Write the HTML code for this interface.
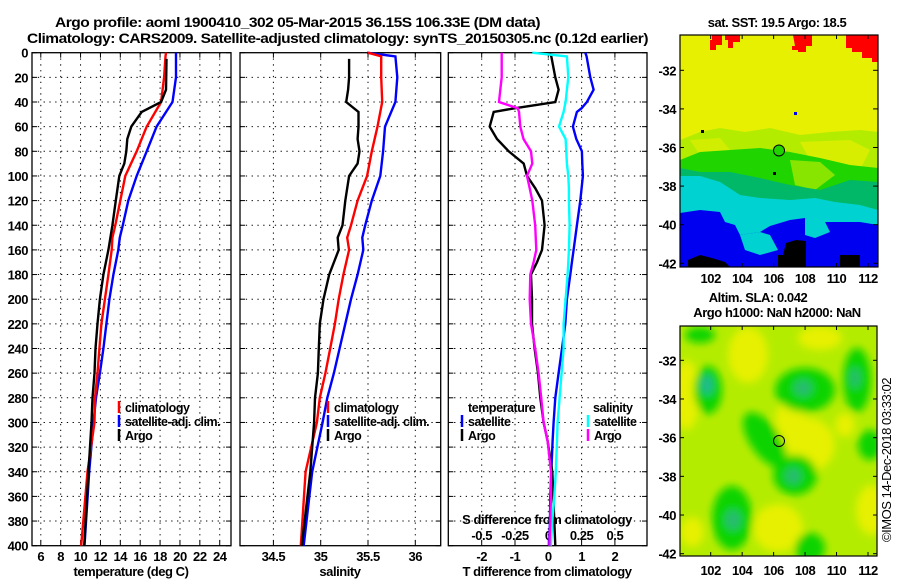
<!DOCTYPE html>
<html><head><meta charset="utf-8"><title>Argo profile</title>
<style>
html,body{margin:0;padding:0;background:#fff;}
svg{display:block;font-family:"Liberation Sans",sans-serif;font-weight:bold;letter-spacing:-0.45px;}
</style></head>
<body>
<svg id="fig" width="900" height="580" viewBox="0 0 900 580" xmlns="http://www.w3.org/2000/svg">
<defs>
<filter id="blur" x="-20%" y="-20%" width="140%" height="140%"><feGaussianBlur stdDeviation="4"/></filter>
<clipPath id="m2clip"><rect x="680" y="326" width="197" height="230"/></clipPath>
<clipPath id="m1clip"><rect x="680" y="35" width="198" height="232"/></clipPath>
</defs>
<text x="55" y="27" font-size="14" textLength="485" lengthAdjust="spacingAndGlyphs">Argo profile: aoml 1900410_302 05-Mar-2015 36.15S 106.33E (DM data)</text>
<text x="27" y="43" font-size="14" textLength="621" lengthAdjust="spacingAndGlyphs">Climatology: CARS2009. Satellite-adjusted climatology: synTS_20150305.nc (0.12d earlier)</text>

<!-- SST map -->
<g clip-path="url(#m1clip)">
<rect x="680" y="35" width="198" height="232" fill="#e6f000"/>
<polygon fill="#ff0000" points="712,35 722,35 722,45 716,45 716,50 710,50 710,40 712,40"/>
<polygon fill="#ff0000" points="725,35 740,35 740,42 733,42 733,48 728,48 728,40 725,40"/>
<polygon fill="#ff0000" points="793,35 812,35 812,46 806,46 806,52 798,52 798,50 792,50 792,46 795,46"/>
<polygon fill="#ff0000" points="846,35 878,35 878,62 872,62 872,58 862,58 862,52 852,52 852,48 846,48"/>
<polygon fill="#b4ec00" points="680,140 700,132 720,128 745,132 770,128 800,135 830,132 860,130 878,132 878,267 680,267"/>
<polygon fill="#e6f000" opacity="0.6" points="690,140 720,138 730,150 700,155"/>
<polygon fill="#e6f000" opacity="0.7" points="800,142 850,140 870,150 860,170 830,175 810,160"/>
<polygon fill="#20d400" points="680,160 700,152 730,150 760,148 790,152 820,158 850,165 878,168 878,267 680,267"/>
<polygon fill="#b4ec00" opacity="0.7" points="790,160 820,162 835,175 815,190 795,185"/>
<polygon fill="#00b868" points="680,168 700,172 730,172 760,178 790,185 820,190 850,180 878,182 878,267 680,267"/>
<polygon fill="#00d2d2" points="680,176 700,176 720,182 740,195 760,198 790,200 815,198 835,202 860,205 878,210 878,267 680,267"/>
<polygon fill="#0000f0" points="680,213 700,210 720,212 725,222 735,225 740,235 760,232 770,226 790,220 805,218 820,222 840,222 860,222 878,225 878,267 680,267"/>
<polygon fill="#00d2d2" points="740,235 760,232 770,235 778,250 760,255 745,250"/>
<polygon fill="#00d2d2" points="805,218 825,222 830,232 815,238 805,235"/>
<polygon fill="#000000" points="786,243 796,240 806,241 806,267 778,267 778,255 783,255"/>
<polygon fill="#000000" points="688,260 700,255 712,258 725,262 730,267 688,267"/>
<rect x="840" y="255" width="20" height="12" fill="#000"/>
<rect x="701" y="130" width="3" height="3" fill="#000"/>
<rect x="773" y="172" width="3" height="3" fill="#000"/>
<rect x="794" y="112" width="3" height="3" fill="#0000f0"/>
</g>
<rect x="680" y="35" width="198" height="232" fill="none" stroke="#000" stroke-width="1.2"/>
<circle cx="779" cy="150.5" r="5.5" fill="#20d400" stroke="#000" stroke-width="1"/>
<text x="777" y="27" font-size="13" text-anchor="middle">sat. SST: 19.5 Argo: 18.5</text>

<!-- SLA map -->
<g clip-path="url(#m2clip)">
<rect x="680" y="326" width="197" height="230" fill="#b4ec00"/>
<g filter="url(#blur)">
<ellipse cx="686" cy="395" rx="14" ry="35" fill="#e6f000"/>
<ellipse cx="748" cy="355" rx="20" ry="28" fill="#e6f000"/>
<ellipse cx="805" cy="445" rx="30" ry="28" fill="#e6f000"/>
<ellipse cx="790" cy="420" rx="15" ry="20" fill="#e6f000"/>
<ellipse cx="872" cy="510" rx="16" ry="25" fill="#e6f000"/>
<ellipse cx="778" cy="528" rx="25" ry="24" fill="#e6f000"/>
<ellipse cx="692" cy="532" rx="12" ry="15" fill="#e6f000"/>
<ellipse cx="820" cy="338" rx="22" ry="12" fill="#e6f000"/>
<ellipse cx="845" cy="425" rx="10" ry="12" fill="#e6f000"/>
<ellipse cx="708" cy="390" rx="14" ry="24" fill="#10d400"/>
<ellipse cx="805" cy="390" rx="30" ry="22" fill="#10d400"/>
<ellipse cx="857" cy="380" rx="14" ry="32" fill="#10d400"/>
<ellipse cx="765" cy="440" rx="15" ry="32" transform="rotate(-35 765 440)" fill="#10d400"/>
<ellipse cx="795" cy="475" rx="22" ry="20" fill="#10d400"/>
<ellipse cx="732" cy="518" rx="20" ry="32" fill="#10d400"/>
<ellipse cx="870" cy="445" rx="12" ry="15" fill="#10d400"/>
<ellipse cx="810" cy="548" rx="15" ry="15" fill="#10d400"/>
<ellipse cx="700" cy="335" rx="15" ry="8" fill="#10d400"/>
<ellipse cx="707" cy="385" rx="6" ry="10" fill="#20b890"/>
<ellipse cx="803" cy="388" rx="9" ry="8" fill="#28bc70"/>
<ellipse cx="793" cy="476" rx="8" ry="8" fill="#28bc70"/>
<ellipse cx="733" cy="520" rx="8" ry="10" fill="#28bc70"/>
<ellipse cx="855" cy="378" rx="5" ry="10" fill="#28bc70"/>
</g>
</g>
<rect x="680" y="326" width="197" height="230" fill="none" stroke="#000" stroke-width="1.2"/>
<circle cx="779" cy="441" r="5.5" fill="none" stroke="#000" stroke-width="1"/>
<text x="758" y="302" font-size="13" text-anchor="middle">Altim. SLA: 0.042</text>
<text x="777" y="317" font-size="13" text-anchor="middle">Argo h1000: NaN h2000: NaN</text>
<text x="0" y="0" font-size="13" font-weight="normal" text-anchor="middle" transform="translate(891 460) rotate(-90)">©IMOS 14-Dec-2018 03:33:02</text>
<g id="axes"></g>
</svg>
<script>
// ---- profile data (depth in m) ----
var clmDepth = [0,3,20,40,60,80,100,120,140,150,160,180,200,220,240,260,280,300,340,400];
var clmTemp  = [18.6,18.55,18.4,18.1,16.65,15.65,14.5,14.0,13.5,13.2,13.13,12.8,12.45,12.1,11.9,11.7,11.45,11.4,10.7,10.06];
var satTemp  = [19.6,19.6,19.6,19.25,17.65,16.65,15.65,14.8,14.25,13.95,13.8,13.3,12.9,12.6,12.3,11.95,11.55,11.3,10.87,10.4];
var clmSal   = [35.5,35.64,35.64,35.65,35.6,35.54,35.49,35.39,35.32,35.28,35.30,35.24,35.19,35.15,35.10,35.05,34.99,34.96,34.84,34.79];
var satSal   = [35.49,35.79,35.81,35.79,35.68,35.66,35.63,35.54,35.47,35.44,35.45,35.39,35.32,35.26,35.20,35.14,35.07,35.02,34.91,34.82];

var argoDepth = [5,20,30,40,48,60,70,80,90,100,120,140,150,160,180,200,220,240,260,280,300,340,400];
var argoTemp  = [18.65,18.62,18.6,18.1,16.15,15.1,14.7,14.6,14.4,13.9,13.55,13.2,13.0,12.8,12.3,11.95,11.7,11.5,11.4,11.2,11.1,10.8,10.37];
var argoSal   = [35.30,35.30,35.29,35.27,35.40,35.40,35.39,35.41,35.39,35.30,35.26,35.23,35.18,35.19,35.09,35.03,34.99,34.98,34.97,34.94,34.93,34.89,34.80];

var diffDepth = [0,3,20,30,40,45,48,60,70,80,90,100,110,120,140,160,170,180,200,220,240,260,280,300,315,340,360,380,400];
var argoTdiff = [0.04,0.09,0.21,0.31,0.21,-0.99,-1.64,-1.76,-1.54,-1.19,-0.74,-0.64,-0.39,-0.19,-0.11,-0.19,-0.34,-0.52,-0.49,-0.49,-0.41,-0.31,-0.24,-0.14,-0.02,0.12,0.15,0.18,0.21];
var satTdiff  = [1.11,1.15,1.26,1.36,1.16,1.0,0.86,0.74,0.84,1.01,1.02,1.04,1.0,0.96,0.86,0.76,0.71,0.66,0.56,0.51,0.41,0.31,0.21,0.16,0.13,0.09,0.06,0.05,0.02];
var satSdiff  = [-0.12,0.14,0.15,0.14,0.13,0.12,0.115,0.08,0.13,0.135,0.14,0.15,0.155,0.155,0.16,0.155,0.15,0.145,0.13,0.115,0.115,0.10,0.085,0.07,0.065,0.056,0.045,0.03,0.019];
var argoSdiff = [-0.35,-0.35,-0.35,-0.36,-0.37,-0.23,-0.22,-0.21,-0.186,-0.13,-0.12,-0.16,-0.14,-0.12,-0.098,-0.09,-0.11,-0.135,-0.14,-0.13,-0.098,-0.073,-0.053,-0.035,-0.005,0.02,0.02,0.015,0.008];

var depthTicks = [0,20,40,60,80,100,120,140,160,180,200,220,240,260,280,300,320,340,360,380,400];
var tempTicks = [6,8,10,12,14,16,18,20,22,24];
var salTicks = [34.5,35,35.5,36];
var salTickLabels = ["34.5","35","35.5","36"];
var tdTicks = [-2,-1,0,1,2];
var sdTicks = [-0.5,-0.25,0,0.25,0.5];
var sdTickLabels = ["-0.5","-0.25","0","0.25","0.5"];
var latTicks = [-32,-34,-36,-38,-40,-42];
var lonTicks = [102,104,106,108,110,112];

// ---- scales ----
function yD(d){ return 52.7 + d*1.2325; }
function xT(t){ return 40.8 + (t-6)*9.94; }
function xS(s){ return 320.7 + (s-35)*94.6; }
function xTd(v){ return 548.3 + v*33.3; }
function xSd(v){ return 548.3 + v*133.2; }
function yLat1(l){ return 70.3 + (-32-l)*19.3; }
function yLat2(l){ return 360.3 + (-32-l)*19.34; }
function xLon(l){ return 710.7 + (l-102)*15.73; }

var NS="http://www.w3.org/2000/svg";
var root=document.getElementById('axes');
function mk(tag,attrs,parent){var e=document.createElementNS(NS,tag);for(var k in attrs)e.setAttribute(k,attrs[k]);(parent||root).appendChild(e);return e;}
function txt(x,y,s,size,anchor,fill,parent){var e=mk('text',{x:x,y:y,'font-size':size,'text-anchor':anchor||'start',fill:fill||'#000'},parent);e.textContent=s;return e;}

var panels=[{x0:32,x1:231,name:'temperature-panel'},{x0:240,x1:440.7,name:'salinity-panel'},{x0:448.3,x1:647,name:'difference-panel'}];
var vgrid=[tempTicks.map(xT), salTicks.map(xS), tdTicks.map(xTd)];

panels.forEach(function(p,i){
  var g=mk('g',{});
  
  
  depthTicks.forEach(function(d){
    if(d>0&&d<400){
      var l=mk('line',{x1:p.x0,x2:p.x1,y1:yD(d),y2:yD(d),stroke:'#000','stroke-width':1,'stroke-dasharray':'1.3,4.5'},g);
      
      
    }
    mk('line',{x1:p.x0,x2:p.x0+5,y1:yD(d),y2:yD(d),stroke:'#000','stroke-width':1},g);
    mk('line',{x1:p.x1-5,x2:p.x1,y1:yD(d),y2:yD(d),stroke:'#000','stroke-width':1},g);
  });
  vgrid[i].forEach(function(x){
    var l=mk('line',{x1:x,x2:x,y1:yD(0),y2:yD(400),stroke:'#000','stroke-width':1,'stroke-dasharray':'1.3,4.5'},g);
    
    
    mk('line',{x1:x,x2:x,y1:yD(0),y2:yD(0)+5,stroke:'#000','stroke-width':1},g);
    mk('line',{x1:x,x2:x,y1:yD(400)-5,y2:yD(400),stroke:'#000','stroke-width':1},g);
  });
  var r=mk('rect',{x:p.x0,y:yD(0),width:p.x1-p.x0,height:yD(400)-yD(0),fill:'none',stroke:'#000','stroke-width':1.3},g);
  
  
});

// depth labels
depthTicks.forEach(function(d){
  var t=txt(28,yD(d)+5,String(d),13,'end');
  
  
});
// x tick labels
tempTicks.forEach(function(v){var t=txt(xT(v),561,String(v),13,'middle');
  
  });
salTicks.forEach(function(v,i){var t=txt(xS(v),561,salTickLabels[i],13,'middle');
  
  });
tdTicks.forEach(function(v){var t=txt(xTd(v),561,String(v),13,'middle');
  
  });
sdTicks.forEach(function(v,i){var t=txt(xSd(v),540,sdTickLabels[i],13,'middle');
  
  });
var at;
at=txt(131,576,'temperature (deg C)',13,'middle');


at=txt(340,576,'salinity',13,'middle');


at=txt(547,576,'T difference from climatology',13,'middle');


at=txt(547,524,'S difference from climatology',13,'middle');



// series
function series(depths, vals, xf, color, name){
  var pts=depths.map(function(d,i){return xf(vals[i]).toFixed(1)+','+yD(d).toFixed(1);}).join(' ');
  var l=mk('polyline',{points:pts,fill:'none',stroke:color,'stroke-width':2.4,'stroke-linejoin':'miter'});
  
  
}
series(clmDepth, satTemp, xT, '#0000ff', 'satellite-temperature-line');
series(clmDepth, clmTemp, xT, '#ff0000', 'climatology-temperature-line');
series(argoDepth, argoTemp, xT, '#000000', 'argo-temperature-line');
series(clmDepth, satSal, xS, '#0000ff', 'satellite-salinity-line');
series(clmDepth, clmSal, xS, '#ff0000', 'climatology-salinity-line');
series(argoDepth, argoSal, xS, '#000000', 'argo-salinity-line');
series(diffDepth, satTdiff, xTd, '#0000ff', 'satellite-t-diff-line');
series(diffDepth, argoTdiff, xTd, '#000000', 'argo-t-diff-line');
series(diffDepth, satSdiff, xSd, '#00ffff', 'satellite-s-diff-line');
series(diffDepth, argoSdiff, xSd, '#ff00ff', 'argo-s-diff-line');

// legends
function legendEntry(x,y,color,label){
  var g=mk('g',{});
  
  
  mk('line',{x1:x,x2:x,y1:y-11,y2:y+1,stroke:color,'stroke-width':2.5},g);
  txt(x+6,y,label,12.5,'start','#000',g);
}
legendEntry(119,412,'#ff0000','climatology');
legendEntry(119,426,'#0000ff','satellite-adj. clim.');
legendEntry(119,440,'#000000','Argo');
legendEntry(328,412,'#ff0000','climatology');
legendEntry(328,426,'#0000ff','satellite-adj. clim.');
legendEntry(328,440,'#000000','Argo');
var lt=txt(468,412,'temperature',12.5,'start');


legendEntry(462,426,'#0000ff','satellite');
legendEntry(462,440,'#000000','Argo');
lt=txt(593,412,'salinity',12.5,'start');


legendEntry(588,426,'#00ffff','satellite');
legendEntry(588,440,'#ff00ff','Argo');

// map axes
[[yLat1,35,267,283],[yLat2,326,556,575]].forEach(function(m,k){
  latTicks.forEach(function(l){
    var y=m[0](l);
    mk('line',{x1:680,x2:684,y1:y,y2:y,stroke:'#000'});
    mk('line',{x1:873,x2:877.5,y1:y,y2:y,stroke:'#000'});
    var t=txt(676,y+5,String(l),13,'end');
    
    
  });
  lonTicks.forEach(function(l){
    var x=xLon(l);
    mk('line',{x1:x,x2:x,y1:m[1],y2:m[1]+4,stroke:'#000'});
    mk('line',{x1:x,x2:x,y1:m[2]-4,y2:m[2],stroke:'#000'});
    var t=txt(x,m[3],String(l),13,'middle');
    
    
  });
});
</script>
</body></html>
